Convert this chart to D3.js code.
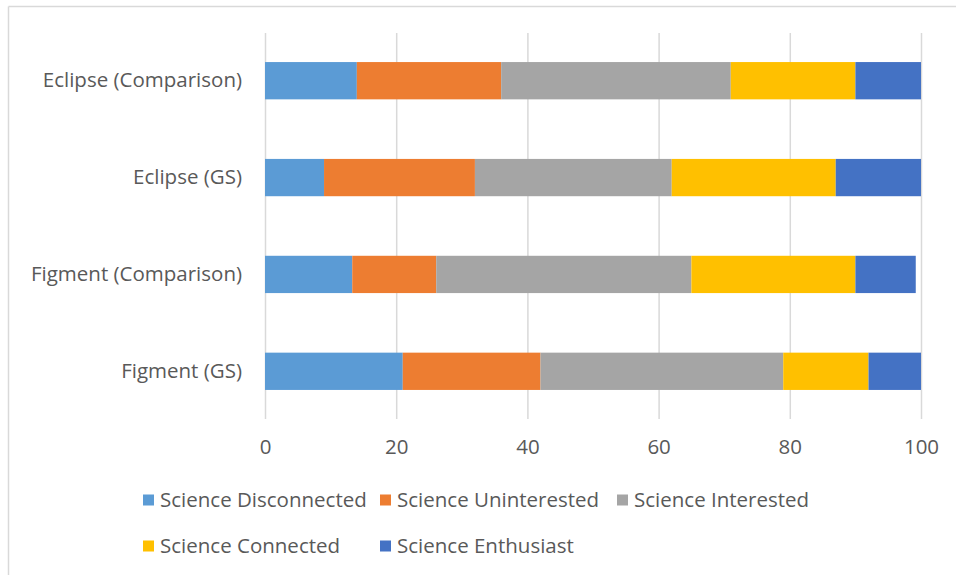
<!DOCTYPE html>
<html>
<head>
<meta charset="utf-8">
<script src="https://cdn.jsdelivr.net/npm/d3@7"></script>
<style>
  html, body { margin: 0; padding: 0; background: #fff; }
  svg { display: block; font-family: "Open Sans", "Liberation Sans", sans-serif; }
</style>
</head>
<body>
<svg id="chart" width="956" height="575"></svg>
<script>
// Categories, top to bottom
const categories = ["Eclipse (Comparison)", "Eclipse (GS)", "Figment (Comparison)", "Figment (GS)"];
// Series names (stack order, left to right)
const seriesNames = ["Science Disconnected", "Science Uninterested", "Science Interested", "Science Connected", "Science Enthusiast"];
// Values per series, aligned with categories
const disconnected = [14, 9, 13.3, 21];
const uninterested = [22, 23, 12.8, 21];
const interested   = [35, 30, 38.9, 37];
const connected    = [19, 25, 25, 13];
const enthusiast   = [10, 13, 9.2, 8];
const xTicks = [0, 20, 40, 60, 80, 100];
const colors = ["#5B9BD5", "#ED7D31", "#A5A5A5", "#FFC000", "#4472C4"];

const seriesValues = [disconnected, uninterested, interested, connected, enthusiast];
const rows = categories.map((c, i) => {
  const r = { category: c };
  seriesNames.forEach((s, j) => { r[s] = seriesValues[j][i]; });
  return r;
});

const svg = d3.select("#chart");
const textColor = "#595959";
const fontSize = "20.5px";

// Chart area frame (top and left edges visible)
svg.append("line").attr("x1", 8.5).attr("x2", 956).attr("y1", 6.5).attr("y2", 6.5)
  .attr("stroke", "#d9d9d9").attr("stroke-width", 1.5);
svg.append("line").attr("x1", 8.5).attr("x2", 8.5).attr("y1", 6.5).attr("y2", 575)
  .attr("stroke", "#d9d9d9").attr("stroke-width", 1.5);

const x = d3.scaleLinear().domain([0, 100]).range([265, 921]);
const y = d3.scaleBand().domain(categories).range([33, 419]).paddingInner(0.615).paddingOuter(0.3);

// Vertical gridlines
svg.append("g").selectAll("line").data(xTicks).join("line")
  .attr("x1", d => x(d) + 0.5).attr("x2", d => x(d) + 0.5)
  .attr("y1", 33).attr("y2", 419)
  .attr("stroke", "#d9d9d9").attr("stroke-width", 1.5);

// Stacked bars
const stack = d3.stack().keys(seriesNames)(rows);
svg.append("g").selectAll("g").data(stack).join("g")
  .attr("fill", (d, i) => colors[i])
  .selectAll("rect").data(d => d).join("rect")
  .attr("x", d => x(d[0]))
  .attr("width", d => x(d[1]) - x(d[0]))
  .attr("y", d => y(d.data.category))
  .attr("height", y.bandwidth());

// X axis tick labels
const xAxis = d3.axisBottom(x).tickValues(xTicks).tickSize(0).tickPadding(0);
const gx = svg.append("g").attr("transform", "translate(0,439)").call(xAxis);
gx.select(".domain").remove();
gx.selectAll("text").attr("fill", textColor).style("font-size", fontSize)
  .style("font-family", "\"Open Sans\", sans-serif").attr("dy", "0.71em");

// Category labels
const yAxis = d3.axisLeft(y).tickSize(0).tickPadding(23);
const gy = svg.append("g").attr("transform", "translate(265,0)").call(yAxis);
gy.select(".domain").remove();
gy.selectAll("text").attr("fill", textColor).style("font-size", fontSize)
  .style("font-family", "\"Open Sans\", sans-serif");

// Legend
const legendPos = [[143, 500], [380, 500], [617, 500], [143, 546], [380, 546]];
const legend = svg.append("g").selectAll("g").data(seriesNames).join("g")
  .attr("transform", (d, i) => `translate(${legendPos[i][0]},${legendPos[i][1]})`);
legend.append("rect").attr("x", 0).attr("y", -5.5).attr("width", 11).attr("height", 11)
  .attr("fill", (d, i) => colors[i]);
legend.append("text").attr("x", 17).attr("dy", "0.35em")
  .attr("fill", textColor).style("font-size", fontSize).text(d => d);
</script>
</body>
</html>
